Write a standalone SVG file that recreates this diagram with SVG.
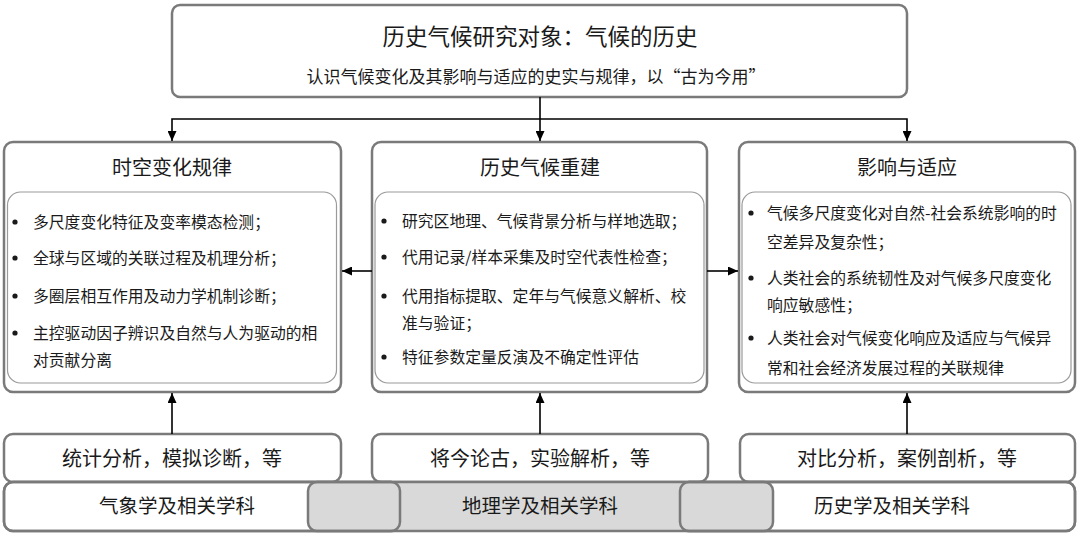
<svg xmlns="http://www.w3.org/2000/svg" width="1080" height="536" viewBox="0 0 1080 536">
<defs>
<style>
text { font-family: "Noto Sans CJK SC", "Noto Sans", sans-serif; fill: #1a1a1a; }
.box { fill: #ffffff; stroke: #7a7a7a; stroke-width: 2.5; }
.edge { fill: none; stroke: #7a7a7a; stroke-width: 2.5; }
.gray { fill: #d9d9d9; stroke: #7a7a7a; stroke-width: 2.5; }
.inner { fill: #ffffff; stroke: #9a9a9a; stroke-width: 1.2; }
.conn { fill: none; stroke: #000000; stroke-width: 1.6; }
.title { font-size: 22.5px; }
.sub { font-size: 17px; }
.head { font-size: 20px; }
.item { font-size: 15.8px; }
.method { font-size: 20px; }
.disc { font-size: 19.5px; }
.dot { fill: #1a1a1a; }
</style>
<marker id="arr" markerUnits="userSpaceOnUse" markerWidth="10" markerHeight="9" refX="10" refY="4.5" orient="auto">
<path d="M0,0 L10,4.5 L0,9 z" fill="#000"/>
</marker>
</defs>

<g id="top">
<rect class="box" x="172" y="5" width="735" height="92" rx="8"/>
<text class="title" x="540" y="45" text-anchor="middle">历史气候研究对象：气候的历史</text>
<text class="sub" x="536" y="83" text-anchor="middle">认识气候变化及其影响与适应的史实与规律，以“古为今用”</text>
</g>

<g id="col-left">
<rect class="box" x="4" y="142" width="337" height="250" rx="9"/>
<text class="head" x="172" y="175" text-anchor="middle">时空变化规律</text>
<rect class="inner" x="7.5" y="192" width="329" height="191" rx="13"/>
<circle class="dot" cx="15" cy="222" r="2.6"/>
<text class="item" x="33" y="228">多尺度变化特征及变率模态检测；</text>
<circle class="dot" cx="15" cy="258" r="2.6"/>
<text class="item" x="33" y="264">全球与区域的关联过程及机理分析；</text>
<circle class="dot" cx="15" cy="296" r="2.6"/>
<text class="item" x="33" y="302">多圈层相互作用及动力学机制诊断；</text>
<circle class="dot" cx="15" cy="333" r="2.6"/>
<text class="item" x="33" y="339">主控驱动因子辨识及自然与人为驱动的相</text>
<text class="item" x="33" y="366">对贡献分离</text>
</g>

<g id="col-mid">
<rect class="box" x="372" y="142" width="335" height="250" rx="9"/>
<text class="head" x="540" y="175" text-anchor="middle">历史气候重建</text>
<rect class="inner" x="375" y="192" width="329" height="191" rx="13"/>
<circle class="dot" cx="384" cy="221" r="2.6"/>
<text class="item" x="402" y="227">研究区地理、气候背景分析与样地选取；</text>
<circle class="dot" cx="384" cy="257" r="2.6"/>
<text class="item" x="402" y="263">代用记录/样本采集及时空代表性检查；</text>
<circle class="dot" cx="384" cy="296" r="2.6"/>
<text class="item" x="402" y="302">代用指标提取、定年与气候意义解析、校</text>
<text class="item" x="402" y="329">准与验证；</text>
<circle class="dot" cx="384" cy="357" r="2.6"/>
<text class="item" x="402" y="363">特征参数定量反演及不确定性评估</text>
</g>

<g id="col-right">
<rect class="box" x="739" y="142" width="336" height="250" rx="9"/>
<text class="head" x="907" y="175" text-anchor="middle">影响与适应</text>
<rect class="inner" x="742" y="192" width="329" height="191" rx="13"/>
<circle class="dot" cx="751" cy="213" r="2.6"/>
<text class="item" x="767" y="219">气候多尺度变化对自然-社会系统影响的时</text>
<text class="item" x="767" y="248">空差异及复杂性；</text>
<circle class="dot" cx="751" cy="278" r="2.6"/>
<text class="item" x="767" y="284">人类社会的系统韧性及对气候多尺度变化</text>
<text class="item" x="767" y="311">响应敏感性；</text>
<circle class="dot" cx="751" cy="338" r="2.6"/>
<text class="item" x="767" y="344">人类社会对气候变化响应及适应与气候异</text>
<text class="item" x="767" y="374">常和社会经济发展过程的关联规律</text>
</g>

<g id="method-left">
<rect class="box" x="4" y="434" width="337" height="48" rx="9"/>
<text class="method" x="172" y="466" text-anchor="middle">统计分析，模拟诊断，等</text>
</g>
<g id="method-mid">
<rect class="box" x="372" y="434" width="336" height="48" rx="9"/>
<text class="method" x="540" y="466" text-anchor="middle">将今论古，实验解析，等</text>
</g>
<g id="method-right">
<rect class="box" x="740" y="434" width="335" height="48" rx="9"/>
<text class="method" x="907" y="466" text-anchor="middle">对比分析，案例剖析，等</text>
</g>

<g id="disc-left">
<rect class="box" x="4" y="482" width="396" height="49" rx="9"/>
</g>
<g id="disc-right">
<rect class="box" x="680" y="482" width="395" height="49" rx="9"/>
</g>
<g id="disc-mid">
<rect class="gray" x="308" y="482" width="465" height="49" rx="9"/>
<rect class="edge" x="4" y="482" width="396" height="49" rx="9"/>
<rect class="edge" x="680" y="482" width="395" height="49" rx="9"/>
<text class="disc" x="177" y="513" text-anchor="middle">气象学及相关学科</text>
<text class="disc" x="540" y="513" text-anchor="middle">地理学及相关学科</text>
<text class="disc" x="892" y="513" text-anchor="middle">历史学及相关学科</text>
</g>

<g id="connectors">
<path class="conn" d="M540,97 V141" marker-end="url(#arr)"/>
<path class="conn" d="M540,119 H172 V141" marker-end="url(#arr)"/>
<path class="conn" d="M540,119 H907 V141" marker-end="url(#arr)"/>
<path class="conn" d="M372,271 H342" marker-end="url(#arr)"/>
<path class="conn" d="M707,271 H738" marker-end="url(#arr)"/>
<path class="conn" d="M172,434 V393" marker-end="url(#arr)"/>
<path class="conn" d="M540,434 V393" marker-end="url(#arr)"/>
<path class="conn" d="M907,434 V393" marker-end="url(#arr)"/>
</g>
</svg>
